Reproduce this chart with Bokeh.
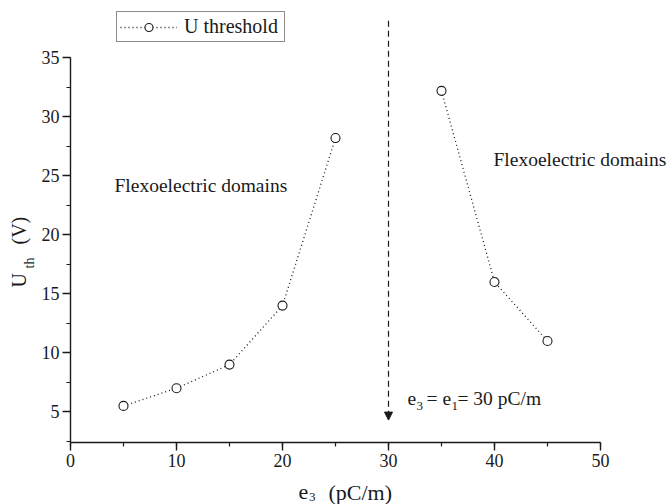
import math
from bokeh.plotting import figure
from bokeh.models import (Range1d, SingleIntervalTicker, Legend, LegendItem,
                          Arrow, NormalHead, Label)
from bokeh.embed import file_html
from bokeh.resources import INLINE

# data
left_e3 = [5, 10, 15, 20, 25]
left_u = [5.5, 7, 9, 14, 28.2]
right_e3 = [35, 40, 45]
right_u = [32.2, 16, 11]
crossover_e3 = 30
arrow_from = 38.15
arrow_to = 4.3
x_ticks_span = (0, 50)
y_axis_span = (2.4, 35)

FONT = "Liberation Serif"
INK = "#1a1a1a"
W, H = 668, 504
SX, SY = 10.6, 11.8          # pixels per data unit
OX, OY = 70, 442             # canvas pixel of the axes corner (x=0, y=2.4)

x_lo = x_ticks_span[0] - OX / SX
x_hi = x_ticks_span[0] + (W - OX) / SX
y_lo = y_axis_span[0] - (H - OY) / SY
y_hi = y_axis_span[0] + OY / SY

p = figure(width=W, height=H, x_range=Range1d(x_lo, x_hi), y_range=Range1d(y_lo, y_hi),
           min_border=0, min_border_left=0, min_border_right=0, min_border_top=0,
           min_border_bottom=0, output_backend="svg", toolbar_location=None)
p.grid.visible = False
p.outline_line_color = None

for ax in (p.xaxis[0], p.yaxis[0]):
    ax.axis_line_color = INK
    ax.axis_line_width = 1.4
    ax.major_tick_line_color = INK
    ax.minor_tick_line_color = INK
    ax.major_tick_line_width = 1.4
    ax.minor_tick_line_width = 1.2
    ax.major_tick_in = 0
    ax.major_tick_out = 8
    ax.minor_tick_in = 0
    ax.minor_tick_out = 4
    ax.major_label_text_font = FONT
    ax.major_label_text_font_size = "18px"
    ax.major_label_text_color = INK
    ax.major_label_standoff = 3

p.xaxis[0].ticker = SingleIntervalTicker(interval=10, num_minor_ticks=2)
p.xaxis[0].bounds = x_ticks_span
p.xaxis[0].fixed_location = y_axis_span[0]
p.yaxis[0].ticker = SingleIntervalTicker(interval=5, num_minor_ticks=2)
p.yaxis[0].bounds = y_axis_span
p.yaxis[0].fixed_location = x_ticks_span[0]

l1 = p.line(left_e3, left_u, line_color=INK, line_dash="1 3", line_width=1.3)
s1 = p.scatter(left_e3, left_u, size=9, marker="circle", line_color=INK,
               fill_color="white", line_width=1.1)
l2 = p.line(right_e3, right_u, line_color=INK, line_dash="1 3", line_width=1.3)
s2 = p.scatter(right_e3, right_u, size=9, marker="circle", line_color=INK,
               fill_color="white", line_width=1.1)

legend = Legend(items=[LegendItem(label="U threshold", renderers=[l1, s1])],
                location=(116, H - 42), orientation="vertical",
                border_line_color=INK, border_line_width=1, background_fill_color="white",
                label_text_font=FONT, label_text_font_size="20px", label_text_color=INK,
                glyph_width=57, glyph_height=20, label_height=20, label_standoff=7,
                label_width=97, padding=3, spacing=0, margin=0)
p.add_layout(legend)

p.add_layout(Arrow(x_start=crossover_e3, y_start=arrow_from, x_end=crossover_e3, y_end=arrow_to,
                   line_color=INK, line_width=1.2, line_dash="6 4",
                   end=NormalHead(size=8, fill_color=INK, line_color=INK, line_width=1)))


def plab(px, py, text, size="19.5px", angle=0):
    # place by canvas pixel (top-left origin; py is the vertical middle of the text),
    # converted through the plot's scales
    p.add_layout(Label(x=x_ticks_span[0] + (px - OX) / SX,
                       y=y_axis_span[0] + (OY - py) / SY,
                       text=text, text_font=FONT, text_font_size=size,
                       text_color=INK, angle=angle, text_align="left",
                       text_baseline="middle"))


# annotations
plab(114, 185, "Flexoelectric domains")
plab(493, 159, "Flexoelectric domains")

plab(407, 398.4, "e")
plab(416, 405.5, "3", size="13px")
plab(426, 398.4, "=")
plab(442, 398.4, "e")
plab(451, 405.5, "1", size="13px")
plab(457, 398.4, "= 30 pC/m")

# x axis title
plab(298, 491.6, "e", size="22px")
plab(308.5, 496.0, "3", size="13px")
plab(328, 491.6, "(pC/m)", size="22px")

# y axis title (rotated)
plab(18.3, 287, "U", size="20px", angle=math.pi / 2)
plab(29.3, 268, "th", size="14px", angle=math.pi / 2)
plab(18.3, 244, "(V)", size="20px", angle=math.pi / 2)

open("out.html", "w").write(file_html(p, INLINE))
